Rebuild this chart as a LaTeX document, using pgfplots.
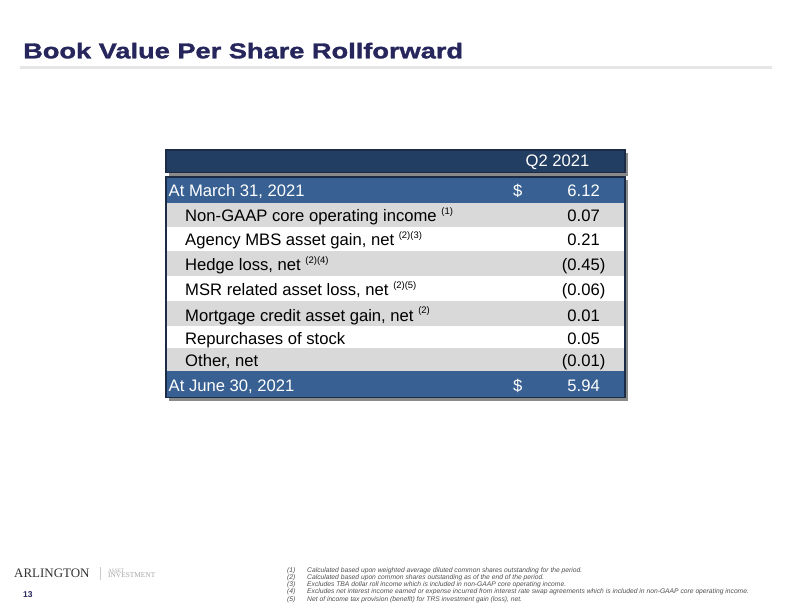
\documentclass[border=0pt]{standalone}
\usepackage{pgfplots}
\pgfplotsset{compat=1.18}
\usepackage{pgfplotstable}
\usepackage{fontspec}
\setmainfont{Liberation Sans}
\newfontfamily\titlefont[FakeStretch=1.27,FakeBold=1.5]{Liberation Sans}
\newfontfamily\logofont{Liberation Serif}

\definecolor{titlenavy}{RGB}{38,38,92}
\definecolor{headnavy}{RGB}{35,62,99}
\definecolor{rowblue}{RGB}{56,96,146}
\definecolor{rowgray}{RGB}{217,217,217}
\definecolor{edge}{RGB}{28,44,70}
\definecolor{rulegray}{RGB}{230,230,230}
\definecolor{notegray}{RGB}{80,80,80}

% superscript note marks and a hanging closing parenthesis
\protected\def\fn#1{\raisebox{7.5bp}{\fontsize{9.5}{10}\selectfont#1}}
\protected\def\rp{\rlap{)}}

% baseline (px from top), label, change per share
\pgfplotstableread[col sep=semicolon]{
y;lab;v
221.5;Non-GAAP core operating income \fn{(1)};0.07
245.5;Agency MBS asset gain, net \fn{(2)(3)};0.21
270.5;Hedge loss, net \fn{(2)(4)};-0.45
295.5;MSR related asset loss, net \fn{(2)(5)};-0.06
321;Mortgage credit asset gain, net \fn{(2)};0.01
344.5;Repurchases of stock;0.05
366;Other, net;-0.01
}\chg

\pgfplotstableread[col sep=semicolon]{
y;lab;v
196.5;At March 31, 2021;6.12
391.5;At June 30, 2021;5.94
}\tot

\pgfkeys{/pgf/number format/money/.style={fixed, fixed zerofill, precision=2, assume math mode=true}}
\pgfplotsset{
  txt/.style={only marks, mark=none, nodes near coords,
    every node near coord/.append style={anchor=#1, inner sep=0pt,
      font=\fontsize{16.7}{20}\selectfont}},
}

\begin{document}
\begin{tikzpicture}
\begin{axis}[
  scale only axis, width=792bp, height=612bp,
  xmin=0, xmax=792, ymin=0, ymax=612, y dir=reverse,
  hide axis, clip=false,
]
  \fill[white] (axis cs:0,0) rectangle (axis cs:792,612);

  % title and rule
  \node[anchor=base west, inner sep=0pt, text=titlenavy,
    font=\titlefont\bfseries\fontsize{21.5}{24}\selectfont]
    at (axis cs:23,58.3) {Book Value Per Share Rollforward};
  \draw[rulegray, line width=3bp] (axis cs:20,67.5) -- (axis cs:772,67.5);

  % header bar
  \fill[black!65, opacity=0.7] (axis cs:169,153) rectangle (axis cs:628,175.5);
  \fill[headnavy, draw=edge, line width=1.2bp] (axis cs:166,150) rectangle (axis cs:625,172.5);
  \node[anchor=base, inner sep=0pt, text=white, font=\fontsize{16.7}{20}\selectfont]
    at (axis cs:557.5,166) {Q2 2021};

  % table body
  \fill[black!65, opacity=0.7] (axis cs:169,180) rectangle (axis cs:628,400.5);
  \fill[rowblue] (axis cs:166,177) rectangle (axis cs:625,203);
  \fill[rowgray] (axis cs:166,203) rectangle (axis cs:625,227);
  \fill[white]   (axis cs:166,227) rectangle (axis cs:625,251);
  \fill[rowgray] (axis cs:166,251) rectangle (axis cs:625,276);
  \fill[white]   (axis cs:166,276) rectangle (axis cs:625,301);
  \fill[rowgray] (axis cs:166,301) rectangle (axis cs:625,326);
  \fill[white]   (axis cs:166,326) rectangle (axis cs:625,348);
  \fill[rowgray] (axis cs:166,348) rectangle (axis cs:625,371);
  \fill[rowblue] (axis cs:166,371) rectangle (axis cs:625,397.5);
  \draw[edge, line width=1.5bp] (axis cs:166,177) rectangle (axis cs:625,397.5);

  % labels
  \addplot[txt=base west, point meta=explicit symbolic]
    table[x expr=185, y=y, meta=lab] {\chg};
  \addplot[txt=base west, point meta=explicit symbolic,
    every node near coord/.append style={text=white}]
    table[x expr=168.5, y=y, meta=lab] {\tot};

  % values
  \addplot[txt=base east, point meta=explicit,
    nodes near coords={\pgfmathprintnumber[money]{\pgfplotspointmeta}},
    restrict expr to domain={\thisrow{v}}{0:100}]
    table[x expr=600, y=y, meta=v] {\chg};
  \addplot[txt=base east, point meta=explicit,
    nodes near coords={(\pgfmathprintnumber[money]{\pgfplotspointmeta}\rp},
    restrict expr to domain={\thisrow{v}}{-100:0}]
    table[x expr=600, y=y, meta expr=abs(\thisrow{v})] {\chg};
  \addplot[txt=base east, point meta=explicit,
    nodes near coords={\pgfmathprintnumber[money]{\pgfplotspointmeta}},
    every node near coord/.append style={text=white}]
    table[x expr=600, y=y, meta=v] {\tot};
  \addplot[txt=base west, point meta=explicit,
    nodes near coords={\$},
    every node near coord/.append style={text=white}]
    table[x expr=513, y=y, meta=v] {\tot};

  % logo and page number
  \node[anchor=base west, inner sep=0pt, text=black!80, font=\logofont\fontsize{13}{14}\selectfont]
    at (axis cs:14,577.3) {ARLINGTON};
  \draw[black!20, line width=0.6bp] (axis cs:100,567) -- (axis cs:100,580);
  \node[anchor=base west, inner sep=0pt, text=black!35, font=\logofont\fontsize{5.2}{6}\selectfont]
    at (axis cs:108,572) {ASSET};
  \node[anchor=base west, inner sep=0pt, text=black!35, font=\logofont\fontsize{7.4}{8}\selectfont]
    at (axis cs:108,577.5) {INVESTMENT};
  \node[anchor=base west, inner sep=0pt, text=titlenavy, font=\bfseries\fontsize{8.5}{9}\selectfont]
    at (axis cs:23,597.7) {13};

  % footnotes
  \begin{scope}[every node/.style={anchor=base west, inner sep=0pt, text=notegray,
      font=\itshape\fontsize{6.75}{7}\selectfont}]
    \node at (axis cs:287,572) {(1)};
    \node at (axis cs:307,572) {Calculated based upon weighted average diluted common shares outstanding for the period.};
    \node at (axis cs:287,579.3) {(2)};
    \node at (axis cs:307,579.3) {Calculated based upon common shares outstanding as of the end of the period.};
    \node at (axis cs:287,586.6) {(3)};
    \node at (axis cs:307,586.6) {Excludes TBA dollar roll income which is included in non-GAAP core operating income.};
    \node at (axis cs:287,593.9) {(4)};
    \node at (axis cs:307,593.9) {Excludes net interest income earned or expense incurred from interest rate swap agreements which is included in non-GAAP core operating income.};
    \node at (axis cs:287,601.2) {(5)};
    \node at (axis cs:307,601.2) {Net of income tax provision (benefit) for TRS investment gain (loss), net.};
  \end{scope}
\end{axis}
\end{tikzpicture}
\end{document}
